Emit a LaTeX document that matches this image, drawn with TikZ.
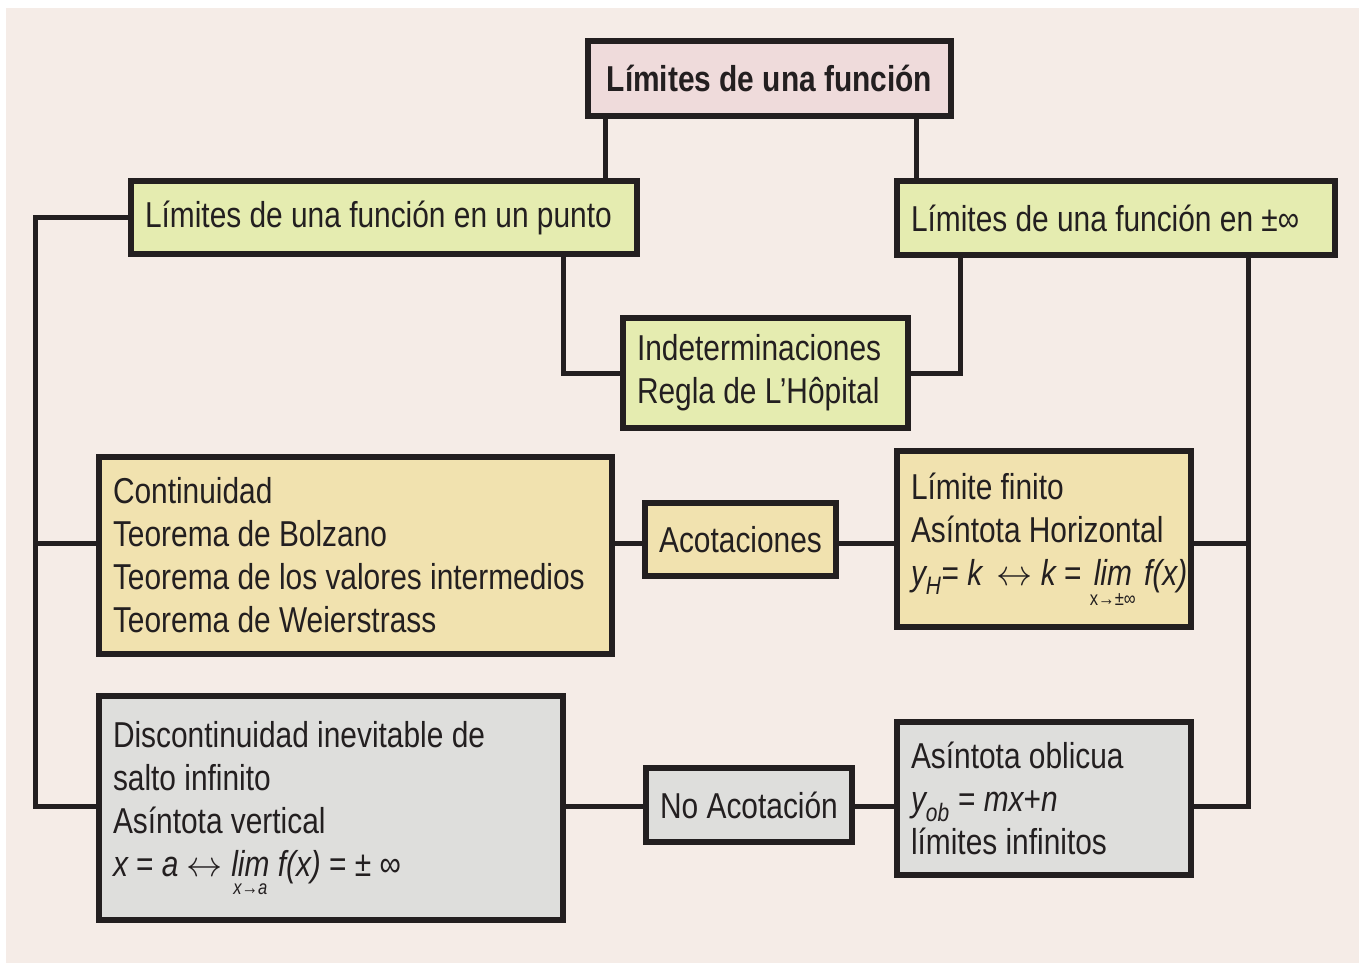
\documentclass[tikz,border=0pt]{standalone}
\usepackage{fontspec}
\setmainfont[FakeStretch=0.83]{Liberation Sans}
\usetikzlibrary{positioning}

\definecolor{bgpink}{HTML}{F5ECE7}
\definecolor{inkline}{HTML}{231F20}
\definecolor{titlefill}{HTML}{EFDBDB}
\definecolor{greenfill}{HTML}{E5ECB0}
\definecolor{yellowfill}{HTML}{F1E2AF}
\definecolor{grayfill}{HTML}{DEDEDC}

\newcommand\boxfont{\fontsize{36}{43}\selectfont\hyphenpenalty=10000\relax}
\newcommand\subfont{\fontsize{20}{20}\selectfont}
\newcommand\dblarrow{\scalebox{1.45}{\ensuremath{\leftrightarrow}}}
\newcommand\limbelow[1]{\vtop{\offinterlineskip\halign{\hfil##\hfil\cr lim\cr\noalign{\kern8pt}\subfont #1\cr}}}

\begin{document}
\begin{tikzpicture}[
  x=1pt,y=-1pt,
  every node/.style={text=inkline,font=\boxfont},
  box/.style={draw=inkline,line width=6pt,inner xsep=14pt,inner ysep=0pt},
  textbox/.style 2 args={box,text width=#1,minimum height=#2,align=flush left},
  link/.style={draw=inkline,line width=5pt,line join=miter}
]
  \useasboundingbox (0,0) rectangle (1359,963);
  \fill[white] (0,0) rectangle (1359,963);
  \fill[bgpink] (6,8) rectangle (1359,963);

  % boxes
  \node[box,fill=titlefill,minimum width=363,minimum height=75,font=\boxfont\bfseries]
    (title) at (769.5,78.5) {Límites de una función};
  \node[textbox={478}{73},fill=greenfill] (punto) at (384,217.5)
    {Límites de una función en un punto};
  \node[textbox={410}{74},fill=greenfill] (infinito) at (1116,218)
    {Límites de una función en ±∞};
  \node[textbox={257}{110},fill=greenfill] (indet) at (765.5,373)
    {Indeterminaciones\\Regla de L’Hôpital};
  \node[textbox={485}{197},fill=yellowfill] (contin) at (355.5,555.5)
    {Continuidad\\Teorema de Bolzano\\Teorema de los valores intermedios\\Teorema de Weierstrass};
  \node[box,fill=yellowfill,minimum width=183,minimum height=73] (acot) at (740.5,539.5)
    {Acotaciones};
  \node[textbox={266}{176},fill=yellowfill] (finito) at (1044,539)
    {Límite finito\\Asíntota Horizontal\\\mbox{{\itshape y}\textsubscript{\itshape H}= {\itshape k}\,\ \dblarrow{} {\itshape k} = {\itshape\limbelow{\upshape x→±∞} f(x)}}};
  \node[textbox={436}{224},fill=grayfill] (discont) at (331,808)
    {Discontinuidad inevitable de\\salto infinito\\Asíntota vertical\\\mbox{{\itshape x} = {\itshape a} \dblarrow{} {\itshape\limbelow{x→a} f(x)} = ± ∞}};
  \node[box,fill=grayfill,minimum width=206,minimum height=74] (noacot) at (749,805)
    {No Acotación};
  \node[textbox={266}{153},fill=grayfill] (oblicua) at (1044,798.5)
    {Asíntota oblicua\\{\itshape y}\textsubscript{\itshape ob} = {\itshape mx}+{\itshape n}\\límites infinitos};

  % helper rows and spines
  \coordinate (midrow) at (35,543);
  \coordinate (lowrow) at (35,806);
  \coordinate (rmid) at (1248,543);
  \coordinate (rlow) at (1248,806);

  % connectors
  \draw[link] (title.south -| 605,0) -- (punto.north -| 605,0);
  \draw[link] (title.south -| 916,0) -- (infinito.north -| 916,0);
  \draw[link] (punto.south -| 563,0) |- (indet.west);
  \draw[link] (infinito.south -| 960,0) |- (indet.east);
  \draw[link] (punto.west) -| (lowrow) -- (discont.west |- lowrow);
  \draw[link] (midrow) -- (contin.west |- midrow);
  \draw[link] (infinito.south -| rlow) -- (rlow) -- (oblicua.east |- rlow);
  \draw[link] (rmid) -- (finito.east |- rmid);
  \draw[link] (contin.east |- midrow) -- (acot.west |- midrow);
  \draw[link] (acot.east |- midrow) -- (finito.west |- midrow);
  \draw[link] (discont.east |- lowrow) -- (noacot.west |- lowrow);
  \draw[link] (noacot.east |- lowrow) -- (oblicua.west |- lowrow);
\end{tikzpicture}
\end{document}
